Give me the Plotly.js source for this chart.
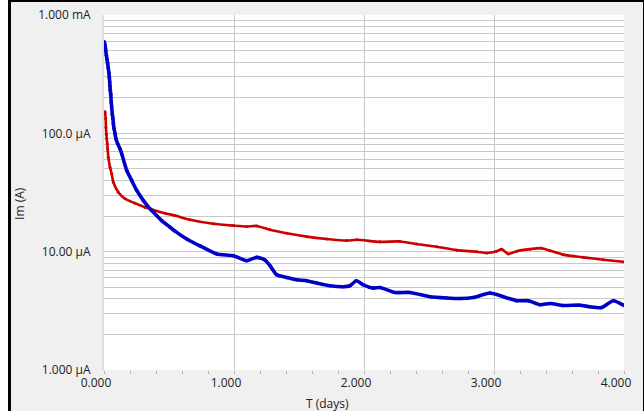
<!DOCTYPE html>
<html>
<head>
<meta charset="utf-8">
<script src="https://cdn.plot.ly/plotly-3.0.1.min.js"></script>
<style>
  html, body { margin: 0; padding: 0; background: #ffffff; }
  #frame {
    position: absolute; left: 8px; top: 0; width: 636px; height: 411px;
    box-sizing: border-box; background: #f0f0f0;
    border-left: 3px solid #000; border-top: 2px solid #000; border-right: 1px solid #000;
  }
  #chart { position: absolute; left: 11px; top: 2px; width: 632px; height: 409px; }
</style>
</head>
<body>
<div id="frame"></div>
<div id="chart"></div>
<script>
// Time axis (days) and measured current Im (A) for the two cells
const blueT = [0.002, 0.008, 0.013, 0.018, 0.023, 0.028, 0.033, 0.038, 0.041, 0.044,
  0.046, 0.048, 0.052, 0.056, 0.059, 0.064, 0.069, 0.072, 0.077, 0.085,
  0.092, 0.105, 0.123, 0.136, 0.175, 0.213, 0.252, 0.302, 0.354, 0.405,
  0.444, 0.508, 0.546, 0.636, 0.738, 0.867, 0.995, 1.098, 1.175, 1.238,
  1.277, 1.328, 1.405, 1.482, 1.559, 1.636, 1.738, 1.841, 1.892, 1.941,
  1.995, 2.072, 2.123, 2.238, 2.354, 2.508, 2.636, 2.738, 2.841, 2.969,
  3.072, 3.175, 3.264, 3.354, 3.431, 3.533, 3.662, 3.738, 3.828, 3.918, 3.995];
const blueI = [5.94e-4, 5.57e-4, 5.05e-4, 4.58e-4, 4.21e-4, 3.90e-4, 3.53e-4, 3.24e-4, 2.96e-4, 2.72e-4,
  2.50e-4, 2.31e-4, 2.14e-4, 1.82e-4, 1.67e-4, 1.45e-4, 1.33e-4, 1.21e-4, 1.10e-4, 9.93e-5,
  9.01e-5, 8.18e-5, 7.41e-5, 6.73e-5, 4.85e-5, 4.00e-5, 3.29e-5, 2.71e-5, 2.30e-5, 2.02e-5,
  1.83e-5, 1.61e-5, 1.49e-5, 1.28e-5, 1.12e-5, 9.57e-6, 9.25e-6, 8.39e-6, 8.95e-6, 8.51e-6,
  7.61e-6, 6.38e-6, 6.05e-6, 5.79e-6, 5.68e-6, 5.43e-6, 5.15e-6, 5.05e-6, 5.15e-6, 5.68e-6,
  5.25e-6, 4.92e-6, 4.98e-6, 4.52e-6, 4.52e-6, 4.16e-6, 4.06e-6, 4.02e-6, 4.10e-6, 4.47e-6,
  4.16e-6, 3.85e-6, 3.85e-6, 3.56e-6, 3.65e-6, 3.51e-6, 3.53e-6, 3.42e-6, 3.37e-6, 3.85e-6, 3.53e-6];

const redT = [0.008, 0.013, 0.015, 0.018, 0.021, 0.025, 0.028, 0.033, 0.046, 0.059,
  0.072, 0.110, 0.162, 0.238, 0.315, 0.379, 0.469, 0.546, 0.662, 0.841,
  0.995, 1.098, 1.175, 1.277, 1.405, 1.559, 1.713, 1.867, 1.944, 2.123,
  2.277, 2.405, 2.559, 2.713, 2.867, 2.944, 3.021, 3.059, 3.110, 3.175,
  3.277, 3.367, 3.431, 3.533, 3.687, 3.841, 3.990];
const redI = [1.52e-4, 1.33e-4, 1.12e-4, 9.82e-5, 9.02e-5, 8.18e-5, 7.41e-5, 6.29e-5, 5.18e-5, 4.55e-5,
  3.86e-5, 3.18e-5, 2.80e-5, 2.57e-5, 2.37e-5, 2.25e-5, 2.11e-5, 2.02e-5, 1.86e-5, 1.72e-5,
  1.66e-5, 1.63e-5, 1.65e-5, 1.53e-5, 1.43e-5, 1.34e-5, 1.28e-5, 1.24e-5, 1.26e-5, 1.21e-5,
  1.22e-5, 1.16e-5, 1.10e-5, 1.03e-5, 1.00e-5, 9.75e-6, 1.01e-5, 1.05e-5, 9.57e-6, 1.01e-5,
  1.05e-5, 1.07e-5, 1.02e-5, 9.44e-6, 8.95e-6, 8.55e-6, 8.22e-6];

// Axis tick labels
const xTickVals = [0, 1, 2, 3, 4];
const xTickText = ['0.000', '1.000', '2.000', '3.000', '4.000'];
const yTickVals = [1e-6, 1e-5, 1e-4, 1e-3];
const yTickText = ['1.000 \u00b5A', '10.00 \u00b5A', '100.0 \u00b5A', '1.000 mA'];

const FONT = 'Open Sans, Noto Sans, sans-serif';

const traces = [
  {
    x: redT, y: redI, type: 'scatter', mode: 'lines+markers',
    line: { color: '#cc0000', width: 2.6, shape: 'spline', smoothing: 0.6 },
    marker: { color: '#cc0000', size: 3 },
    hoverinfo: 'x+y', showlegend: false
  },
  {
    x: blueT, y: blueI, type: 'scatter', mode: 'lines+markers',
    line: { color: '#0000c8', width: 3.6, shape: 'spline', smoothing: 0.6 },
    marker: { color: '#0000c8', size: 3.6 },
    hoverinfo: 'x+y', showlegend: false
  }
];

const layout = {
  width: 632, height: 409,
  margin: { l: 93, r: 19, t: 13, b: 41 },
  paper_bgcolor: 'rgba(0,0,0,0)',
  plot_bgcolor: '#ffffff',
  font: { family: FONT, size: 12, color: '#222222' },
  xaxis: {
    range: [0, 4],
    tickmode: 'array', tickvals: xTickVals, ticktext: xTickText,
    ticks: '', ticklabelshift: -8, ticklabelstandoff: 4,
    showgrid: true, gridcolor: '#c8c8c8', gridwidth: 1,
    zeroline: false, showline: false,
    minor: { dtick: 0.2, ticks: 'outside', ticklen: 3, tickcolor: '#b4b4b4', tickwidth: 1, showgrid: false }
  },
  yaxis: {
    type: 'log', range: [-6, -3],
    tickmode: 'array', tickvals: yTickVals, ticktext: yTickText,
    ticks: '', ticklabelstandoff: 9,
    showgrid: true, gridcolor: '#c8c8c8', gridwidth: 1,
    zeroline: false, showline: true, linecolor: '#dedede', linewidth: 2,
    minor: { dtick: 'D1', showgrid: true, gridcolor: '#c8c8c8', gridwidth: 1, ticks: '' }
  },
  annotations: [
    { text: 'Im (A)', xref: 'paper', yref: 'paper', x: -0.1615, y: 0.468,
      xanchor: 'center', yanchor: 'middle', textangle: -90, showarrow: false,
      font: { family: FONT, size: 12, color: '#222222' } },
    { text: 'T (days)', xref: 'paper', yref: 'paper', x: 0.429, y: -0.093,
      xanchor: 'center', yanchor: 'middle', showarrow: false,
      font: { family: FONT, size: 12, color: '#222222' } }
  ]
};

Plotly.newPlot('chart', traces, layout, { displayModeBar: false, staticPlot: true });
</script>
</body>
</html>
